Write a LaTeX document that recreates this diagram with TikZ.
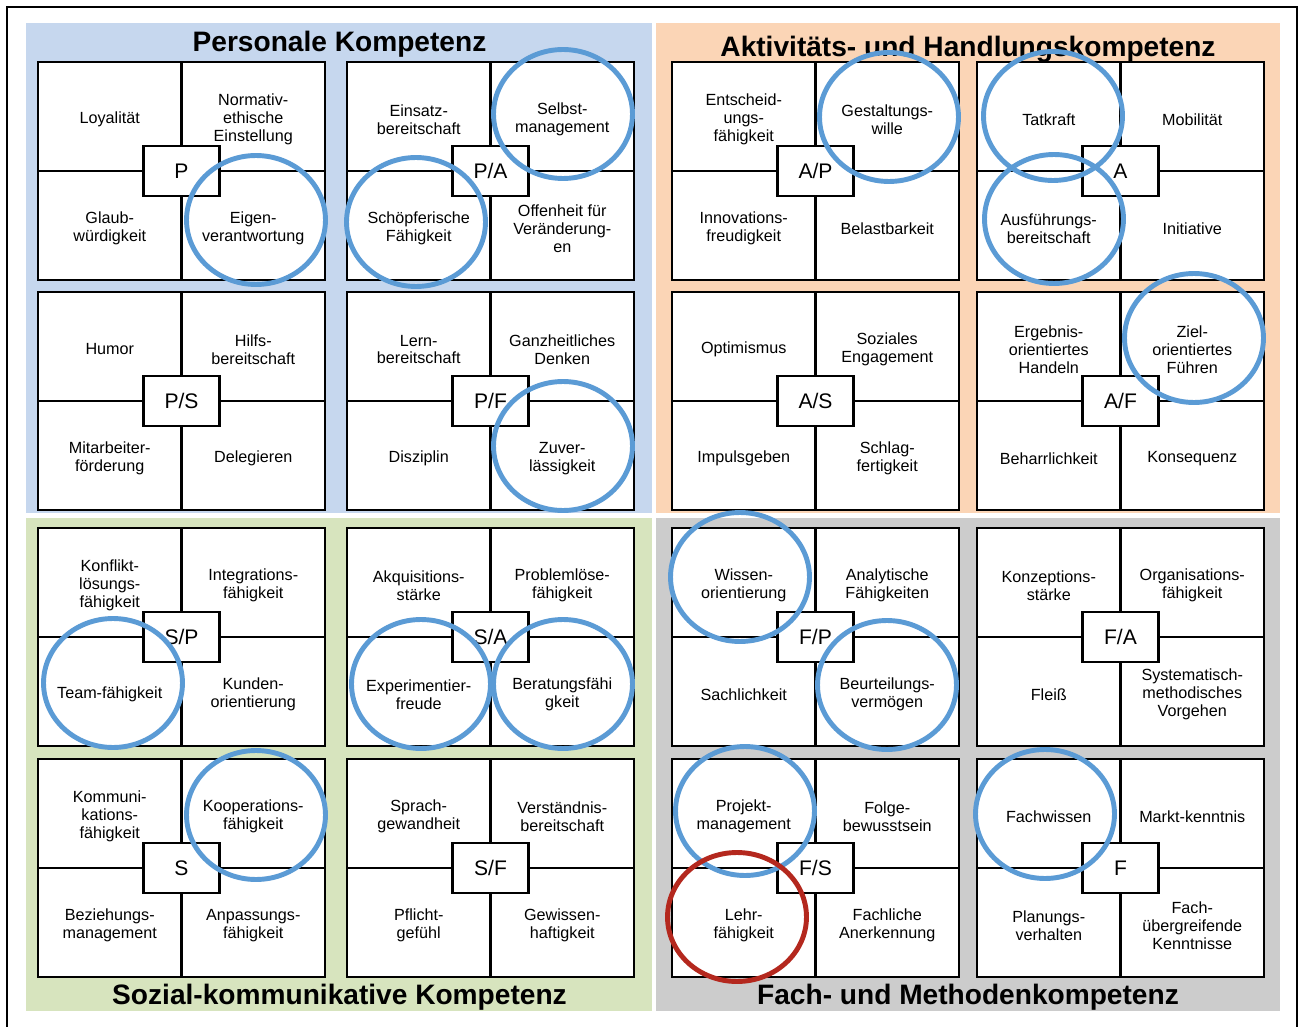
\documentclass[tikz,border=0pt]{standalone}
\usepackage{fontspec}
\setmainfont{Liberation Sans}
\usetikzlibrary{shapes.geometric}

\definecolor{persblue}{RGB}{198,215,238}
\definecolor{aktorange}{RGB}{251,213,182}
\definecolor{sozgreen}{RGB}{215,228,190}
\definecolor{fachgray}{RGB}{204,204,204}
\definecolor{ringblue}{RGB}{91,155,213}
\definecolor{ringred}{RGB}{180,40,30}

\newcommand{\kblock}[8]{
    \node[cell] at (#1+71.75,#2+54.5) (#3tl) {};
    \node[cell] at (#1+215.25,#2+54.5) (#3tr) {};
    \node[cell] at (#1+71.75,#2+163.5) (#3bl) {};
    \node[cell] at (#1+215.25,#2+163.5) (#3br) {};
    \node[txt] at ([yshift=-1.7pt]#3tl) (#3tlt) {#5};
    \node[txt] at ([yshift=-1.7pt]#3tr) (#3trt) {#6};
    \node[txt] at ([yshift=-1.7pt]#3bl) (#3blt) {#7};
    \node[txt] at ([yshift=-1.7pt]#3br) (#3brt) {#8};
    \node[core] at (#1+143.5,#2+109) (#3) {#4};
}

\begin{document}
\begin{tikzpicture}[x=0.02cm,y=-0.02cm]
    \tikzstyle{cell}=[draw,fill=white,line width=1.4pt,minimum width=2.87cm,minimum height=2.18cm,inner sep=0pt]
    \tikzstyle{txt}=[inner sep=0pt,align=center,font=\fontsize{9.2}{10.2}\selectfont]
    \tikzstyle{core}=[draw,fill=white,line width=1.4pt,minimum width=1.52cm,minimum height=1cm,inner sep=0pt,text height=8.2pt,text depth=0pt,font=\fontsize{12}{14}\selectfont]
    \tikzstyle{heading}=[anchor=base,font=\fontsize{16}{19}\selectfont\bfseries]
    \tikzstyle{ring}=[ellipse,draw=ringblue,line width=2.8pt,minimum width=2.78cm,minimum height=2.58cm,inner sep=0pt]

    \useasboundingbox (0,0) rectangle (1299,1027);
    \draw[line width=1.1pt] (7,1030) -- (7,7) -- (1297,7) -- (1297,1030);

    \fill[persblue] (26,23) rectangle (652,513);
    \fill[aktorange] (656,23) rectangle (1280,513);
    \fill[sozgreen] (26,518) rectangle (652,1011);
    \fill[fachgray] (656,518) rectangle (1280,1011);

    \node[heading] at (339.5,52) (tpers) {Personale Kompetenz};
    \node[heading] at (968,57) (takt) {Aktivitäts- und Handlungskompetenz};
    \node[heading] at (339.5,1004) (tsoz) {Sozial-kommunikative Kompetenz};
    \node[heading] at (968,1004) (tfach) {Fach- und Methodenkompetenz};

    \kblock{38}{62}{bp}{P}{Loyalität}{Normativ-\\ethische\\Einstellung}{Glaub-\\würdigkeit}{Eigen-\\verantwortung}
    \kblock{347}{62}{bpa}{P/A}{Einsatz-\\bereitschaft}{Selbst-\\management}{Schöpferische\\Fähigkeit}{Offenheit für\\Veränderung-\\en}
    \kblock{672}{62}{bap}{A/P}{Entscheid-\\ungs-\\fähigkeit}{Gestaltungs-\\wille}{Innovations-\\freudigkeit}{Belastbarkeit}
    \kblock{977}{62}{ba}{A}{Tatkraft}{Mobilität}{Ausführungs-\\bereitschaft}{Initiative}

    \kblock{38}{292}{bps}{P/S}{Humor}{Hilfs-\\bereitschaft}{Mitarbeiter-\\förderung}{Delegieren}
    \kblock{347}{292}{bpf}{P/F}{Lern-\\bereitschaft}{Ganzheitliches\\Denken}{Disziplin}{Zuver-\\lässigkeit}
    \kblock{672}{292}{bas}{A/S}{Optimismus}{Soziales\\Engagement}{Impulsgeben}{Schlag-\\fertigkeit}
    \kblock{977}{292}{baf}{A/F}{Ergebnis-\\orientiertes\\Handeln}{Ziel-\\orientiertes\\Führen}{Beharrlichkeit}{Konsequenz}

    \kblock{38}{528}{bsp}{S/P}{Konflikt-\\lösungs-\\fähigkeit}{Integrations-\\fähigkeit}{Team-fähigkeit}{Kunden-\\orientierung}
    \kblock{347}{528}{bsa}{S/A}{Akquisitions-\\stärke}{Problemlöse-\\fähigkeit}{Experimentier-\\freude}{Beratungsfähi\\gkeit}
    \kblock{672}{528}{bfp}{F/P}{Wissen-\\orientierung}{Analytische\\Fähigkeiten}{Sachlichkeit}{Beurteilungs-\\vermögen}
    \kblock{977}{528}{bfa}{F/A}{Konzeptions-\\stärke}{Organisations-\\fähigkeit}{Fleiß}{Systematisch-\\methodisches\\Vorgehen}

    \kblock{38}{759}{bs}{S}{Kommuni-\\kations-\\fähigkeit}{Kooperations-\\fähigkeit}{Beziehungs-\\management}{Anpassungs-\\fähigkeit}
    \kblock{347}{759}{bsf}{S/F}{Sprach-\\gewandheit}{Verständnis-\\bereitschaft}{Pflicht-\\gefühl}{Gewissen-\\haftigkeit}
    \kblock{672}{759}{bfs}{F/S}{Projekt-\\management}{Folge-\\bewusstsein}{Lehr-\\fähigkeit}{Fachliche\\Anerkennung}
    \kblock{977}{759}{bf}{F}{Fachwissen}{Markt-kenntnis}{Planungs-\\verhalten}{Fach-\\übergreifende\\Kenntnisse}

    \node[ring] at (256,220) (reigen) {};
    \node[ring] at (563,114) (rselbst) {};
    \node[ring] at (416,222) (rschoepf) {};
    \node[ring] at (889,117) (rgestalt) {};
    \node[ring] at (1053,116) (rtatkraft) {};
    \node[ring] at (1054,219) (rausf) {};
    \node[ring] at (1194,338) (rziel) {};
    \node[ring] at (563,446) (rzuver) {};
    \node[ring] at (113,683) (rteam) {};
    \node[ring] at (421,684) (rexper) {};
    \node[ring] at (563,684) (rberat) {};
    \node[ring] at (740,577) (rwissen) {};
    \node[ring] at (887,685) (rbeurt) {};
    \node[ring] at (256,815) (rkoop) {};
    \node[ring] at (745,811) (rprojekt) {};
    \node[ring] at (1045,814) (rfachw) {};
    \node[ring,draw=ringred] at (737,917) (rlehr) {};
\end{tikzpicture}
\end{document}
